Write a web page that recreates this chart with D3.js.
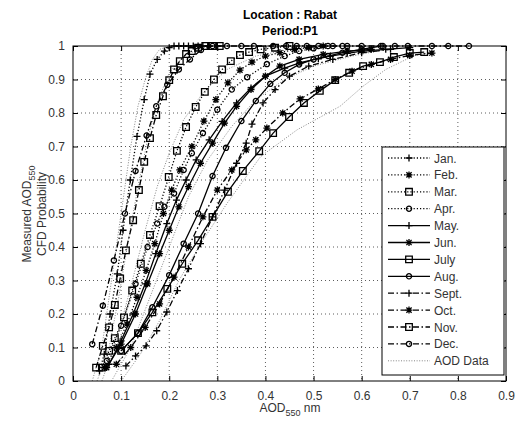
<!DOCTYPE html>
<html>
<head>
<meta charset="utf-8">
<script src="https://cdnjs.cloudflare.com/ajax/libs/d3/7.8.5/d3.min.js"></script>
<style>
body{margin:0;background:#fff;}
svg{font-family:"Liberation Sans",Arial,sans-serif;}
</style>
</head>
<body>
<svg id="chart" width="517" height="421"></svg>
<script>
// month labels + [AOD, probability] pairs
var months = ["Jan.","Feb.","Mar.","Apr.","May.","Jun.","July","Aug.","Sept.","Oct.","Nov.","Dec."];

var janData = [[0.055,0.03],[0.065,0.08],[0.077,0.2],[0.092,0.32],[0.104,0.45],[0.119,0.6],[0.133,0.73],[0.148,0.84],[0.16,0.916],[0.175,0.96],[0.19,0.985],[0.2,0.995],[0.21,1],[0.22,1],[0.23,1],[0.24,1],[0.25,1],[0.26,1],[0.27,1],[0.28,1],[0.3,1]];
var febData = [[0.065,0.04],[0.09,0.1],[0.112,0.17],[0.133,0.25],[0.152,0.33],[0.17,0.41],[0.188,0.5],[0.205,0.57],[0.222,0.63],[0.247,0.7],[0.272,0.776],[0.297,0.84],[0.322,0.89],[0.347,0.928],[0.372,0.952],[0.4,0.97],[0.43,0.98],[0.46,0.99],[0.49,0.995],[0.52,1]];
var marData = [[0.06,0.04],[0.075,0.09],[0.087,0.128],[0.106,0.19],[0.123,0.27],[0.141,0.35],[0.16,0.436],[0.18,0.522],[0.199,0.609],[0.216,0.687],[0.235,0.758],[0.255,0.818],[0.274,0.863],[0.293,0.9],[0.31,0.93],[0.328,0.955],[0.347,0.973],[0.366,0.982],[0.39,0.99],[0.42,0.995],[0.45,1]];
var aprData = [[0.07,0.06],[0.1,0.165],[0.13,0.29],[0.155,0.4],[0.175,0.47],[0.19,0.52],[0.21,0.56],[0.23,0.63],[0.247,0.68],[0.27,0.74],[0.3,0.81],[0.33,0.87],[0.362,0.907],[0.403,0.946],[0.44,0.97],[0.47,0.985],[0.5,0.993],[0.53,1],[0.56,1]];
var mayData = [[0.075,0.05],[0.1,0.12],[0.125,0.2],[0.15,0.29],[0.172,0.38],[0.195,0.47],[0.215,0.54],[0.235,0.6],[0.256,0.66],[0.283,0.72],[0.31,0.775],[0.34,0.83],[0.37,0.875],[0.4,0.91],[0.44,0.934],[0.472,0.95],[0.51,0.962],[0.535,0.97],[0.57,0.978],[0.6,0.985],[0.65,0.99],[0.7,0.995]];
var junData = [[0.07,0.04],[0.1,0.11],[0.13,0.2],[0.155,0.29],[0.18,0.38],[0.2,0.45],[0.22,0.52],[0.24,0.58],[0.265,0.65],[0.29,0.71],[0.315,0.77],[0.34,0.82],[0.37,0.87],[0.4,0.91],[0.43,0.94],[0.47,0.96],[0.52,0.975],[0.57,0.985],[0.62,0.99]];
var julData = [[0.1,0.09],[0.135,0.143],[0.165,0.205],[0.196,0.275],[0.227,0.35],[0.26,0.42],[0.29,0.49],[0.322,0.565],[0.353,0.627],[0.387,0.686],[0.416,0.74],[0.449,0.788],[0.48,0.83],[0.513,0.866],[0.545,0.898],[0.574,0.92],[0.603,0.94],[0.638,0.952],[0.667,0.967],[0.7,0.979],[0.73,0.982]];
var augData = [[0.1,0.09],[0.135,0.143],[0.165,0.22],[0.2,0.316],[0.23,0.41],[0.26,0.5],[0.29,0.612],[0.318,0.696],[0.35,0.776],[0.38,0.836],[0.41,0.887],[0.44,0.92],[0.47,0.945],[0.5,0.96],[0.53,0.97],[0.56,0.98],[0.6,0.99],[0.64,1]];
var sepData = [[0.11,0.045],[0.13,0.075],[0.152,0.105],[0.174,0.15],[0.195,0.206],[0.217,0.27],[0.24,0.335],[0.265,0.41],[0.29,0.49],[0.315,0.57],[0.34,0.65],[0.36,0.71],[0.372,0.767],[0.395,0.83],[0.42,0.87],[0.45,0.91],[0.49,0.94],[0.54,0.96],[0.6,0.98],[0.66,0.99]];
var octData = [[0.09,0.05],[0.12,0.1],[0.15,0.16],[0.18,0.23],[0.21,0.31],[0.24,0.4],[0.27,0.49],[0.3,0.57],[0.33,0.63],[0.36,0.69],[0.38,0.72],[0.403,0.755],[0.436,0.8],[0.472,0.842],[0.51,0.872],[0.545,0.9],[0.58,0.925],[0.62,0.945],[0.66,0.96],[0.7,0.972],[0.746,0.979]];
var novData = [[0.048,0.04],[0.062,0.105],[0.075,0.16],[0.087,0.227],[0.098,0.306],[0.11,0.39],[0.125,0.48],[0.137,0.57],[0.148,0.654],[0.16,0.725],[0.173,0.794],[0.187,0.85],[0.2,0.898],[0.21,0.93],[0.222,0.955],[0.235,0.976],[0.247,0.985],[0.26,0.995],[0.275,1],[0.29,1],[0.305,1]];
var decData = [[0.04,0.11],[0.062,0.225],[0.085,0.36],[0.108,0.5],[0.13,0.627],[0.153,0.733],[0.173,0.82],[0.196,0.884],[0.22,0.93],[0.243,0.96],[0.266,0.988],[0.29,1],[0.32,1],[0.35,1],[0.376,1],[0.416,1],[0.443,1],[0.465,1],[0.486,1],[0.51,1],[0.54,1],[0.57,1],[0.6,1],[0.644,1],[0.669,1],[0.696,1],[0.746,1],[0.78,1],[0.823,1]];

// raw empirical distributions (thin dotted grey)
var aodData1 = [[0.04,0],[0.06,0.1],[0.075,0.25],[0.09,0.4],[0.105,0.55],[0.12,0.7],[0.135,0.82],[0.15,0.9],[0.165,0.96],[0.18,0.99],[0.2,1]];
var aodData2 = [[0.05,0],[0.075,0.1],[0.095,0.25],[0.115,0.42],[0.135,0.58],[0.155,0.72],[0.175,0.83],[0.2,0.92],[0.23,0.97],[0.27,0.995],[0.3,1]];
var aodData3 = [[0.06,0],[0.09,0.12],[0.12,0.28],[0.15,0.45],[0.175,0.58],[0.2,0.68],[0.23,0.78],[0.27,0.86],[0.32,0.93],[0.38,0.97],[0.45,0.99],[0.5,1]];
var aodData4 = [[0.08,0],[0.12,0.1],[0.16,0.25],[0.2,0.4],[0.24,0.55],[0.28,0.66],[0.33,0.76],[0.38,0.84],[0.44,0.9],[0.5,0.94],[0.58,0.97],[0.65,0.99]];
var aodData5 = [[0.1,0],[0.14,0.08],[0.18,0.18],[0.22,0.3],[0.27,0.42],[0.32,0.53],[0.39,0.67],[0.466,0.75],[0.555,0.82],[0.603,0.88],[0.65,0.93],[0.707,0.97],[0.74,0.98]];

var xTicks = [0,0.1,0.2,0.3,0.4,0.5,0.6,0.7,0.8,0.9];
var yTicks = [0,0.1,0.2,0.3,0.4,0.5,0.6,0.7,0.8,0.9,1];

var series = [janData,febData,marData,aprData,mayData,junData,julData,augData,sepData,octData,novData,decData];
var aodSeries = [aodData1,aodData2,aodData3,aodData4,aodData5];

// look of each month
var lineStyle = ["dot","dot","dot","dot","solid","solid","solid","solid","dashdot","dashdot","dashdot","dashdot"];
var markStyle = ["plus","star","square","circle","plus","star","square","circle","plus","star","square","circle"];
var dashes = {dot:"1.2,2", solid:null, dashdot:"6,2.5,1.5,2.5"};

var svg = d3.select("#chart"),
    pL = 73, pR = 506, pT = 46, pB = 381;

var x = d3.scaleLinear().domain([0,0.9]).range([pL,pR]);
var y = d3.scaleLinear().domain([0,1]).range([pB,pT]);

// grid
var grid = svg.append("g");
grid.selectAll(".gx").data(xTicks.slice(1,-1)).enter().append("line")
    .attr("x1",function(d){return x(d)}).attr("x2",function(d){return x(d)})
    .attr("y1",pT).attr("y2",pB)
    .attr("stroke","#333").attr("stroke-width",0.8).attr("stroke-dasharray","1,3");
grid.selectAll(".gy").data(yTicks.slice(1,-1)).enter().append("line")
    .attr("y1",function(d){return y(d)}).attr("y2",function(d){return y(d)})
    .attr("x1",pL).attr("x2",pR)
    .attr("stroke","#333").attr("stroke-width",0.8).attr("stroke-dasharray","1,3");

var line = d3.line().x(function(d){return x(d[0])}).y(function(d){return y(d[1])});

svg.append("g").selectAll("path").data(aodSeries).enter().append("path")
    .attr("d",line).attr("fill","none")
    .attr("stroke","#666").attr("stroke-width",0.8).attr("stroke-dasharray","1,1.6");

function markerPath(type){
    var s = 3.5;
    if(type=="plus") return "M"+(-s)+",0H"+s+"M0,"+(-s)+"V"+s;
    if(type=="star") return "M"+(-s)+",0H"+s+"M0,"+(-s)+"V"+s+"M-2.6,-2.6L2.6,2.6M-2.6,2.6L2.6,-2.6";
    if(type=="square") return "M-3.3,-3.3H3.3V3.3H-3.3Z";
    return "M2.6,0A2.6,2.6 0 1,1 -2.6,0A2.6,2.6 0 1,1 2.6,0Z";
}

series.forEach(function(data,i){
    var g = svg.append("g");
    g.append("path").attr("d",line(data)).attr("fill","none")
        .attr("stroke","#000").attr("stroke-width",1.3)
        .attr("stroke-dasharray",dashes[lineStyle[i]]);
    g.selectAll("path.m").data(data).enter().append("path")
        .attr("class","m")
        .attr("transform",function(d){return "translate("+x(d[0])+","+y(d[1])+")"})
        .attr("d",markerPath(markStyle[i]))
        .attr("fill","none").attr("stroke","#000").attr("stroke-width",1.3);
});

// box and inner ticks
svg.append("rect").attr("x",pL).attr("y",pT).attr("width",pR-pL).attr("height",pB-pT)
    .attr("fill","none").attr("stroke","#000").attr("stroke-width",1);

svg.append("g").attr("transform","translate(0,"+pB+")")
    .call(d3.axisBottom(x).tickValues(xTicks).tickSizeInner(-5).tickSizeOuter(0).tickPadding(10).tickFormat(d3.format("")));
svg.append("g").attr("transform","translate(0,"+pT+")")
    .call(d3.axisTop(x).tickValues(xTicks).tickSizeInner(-5).tickSizeOuter(0).tickFormat(""));
svg.append("g").attr("transform","translate("+pL+",0)")
    .call(d3.axisLeft(y).tickValues(yTicks).tickSizeInner(-5).tickSizeOuter(0).tickPadding(8).tickFormat(d3.format("")));
svg.append("g").attr("transform","translate("+pR+",0)")
    .call(d3.axisRight(y).tickValues(yTicks).tickSizeInner(-5).tickSizeOuter(0).tickFormat(""));
svg.selectAll(".domain").remove();
svg.selectAll(".tick text").attr("font-size",12).attr("fill","#333")
    .attr("font-family","'Liberation Sans',Arial,sans-serif");

// titles
svg.append("text").attr("x",290).attr("y",19).attr("text-anchor","middle")
    .attr("font-size",12).attr("font-weight","bold").text("Location : Rabat");
svg.append("text").attr("x",290).attr("y",35).attr("text-anchor","middle")
    .attr("font-size",12).attr("font-weight","bold").text("Period:P1");

var xl = svg.append("text").attr("x",290).attr("y",412).attr("text-anchor","middle")
    .attr("font-size",12).attr("fill","#333");
xl.append("tspan").text("AOD");
xl.append("tspan").attr("font-size",9).attr("dy",4).text("550");
xl.append("tspan").attr("dy",-4).text(" nm");

var yl = svg.append("text").attr("transform","translate(31,214) rotate(-90)").attr("text-anchor","middle")
    .attr("font-size",12).attr("fill","#333");
yl.append("tspan").text("Measured AOD");
yl.append("tspan").attr("font-size",9).attr("dy",4).text("550");
svg.append("text").attr("transform","translate(46,214) rotate(-90)").attr("text-anchor","middle")
    .attr("font-size",12).attr("fill","#333").text("CFD Probability");

// legend
var lg = svg.append("g");
lg.append("rect").attr("x",382).attr("y",147).attr("width",122).attr("height",228)
    .attr("fill","#fff").attr("stroke","#000").attr("stroke-width",1);
var legendNames = months.concat(["AOD Data"]);
legendNames.forEach(function(name,i){
    var ly = 158 + i*16.9;
    if(i<12){
        lg.append("line").attr("x1",388).attr("x2",430).attr("y1",ly).attr("y2",ly)
            .attr("stroke","#000").attr("stroke-width",1.3)
            .attr("stroke-dasharray",dashes[lineStyle[i]]);
        lg.append("path").attr("transform","translate(409,"+ly+")").attr("d",markerPath(markStyle[i]))
            .attr("fill","none").attr("stroke","#000").attr("stroke-width",1.3);
    } else {
        lg.append("line").attr("x1",388).attr("x2",430).attr("y1",ly).attr("y2",ly)
            .attr("stroke","#666").attr("stroke-width",0.8).attr("stroke-dasharray","1,1.6");
    }
    lg.append("text").attr("x",434).attr("y",ly+4.5).attr("font-size",12).attr("fill","#333").text(name);
});
</script>
</body>
</html>
